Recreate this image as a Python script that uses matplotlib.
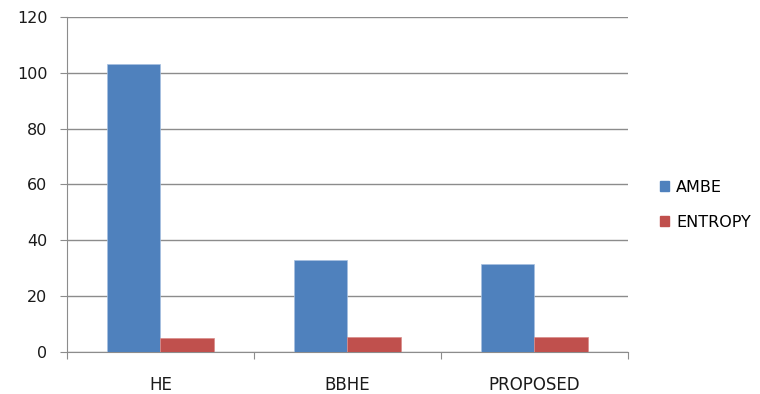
import numpy as np
import matplotlib.pyplot as plt
from matplotlib.patches import Patch

categories = ['HE', 'BBHE', 'PROPOSED']
ambe = [103.0, 33.0, 31.4]
entropy = [4.9, 5.3, 5.3]

blue = '#4F81BD'
red = '#C0504D'
grid = '#8c8c8c'
fs = 12

fig = plt.figure(figsize=(7.6, 3.94), dpi=100)
ax = fig.add_axes([0.088, 0.1066, 0.738, 0.8504])

x = np.arange(len(categories))
w = 0.285
ax.bar(x - w / 2, ambe, w, color=blue, edgecolor='#a6c0e0', linewidth=0.5, zorder=3)
ax.bar(x + w / 2, entropy, w, color=red, edgecolor='#d88b89', linewidth=0.5, zorder=3)

ax.set_xlim(-0.5, len(categories) - 0.5)
ax.set_ylim(0, 120)
ax.set_yticks(range(0, 121, 20))
ax.yaxis.grid(True, color=grid, linewidth=1, zorder=0)
ax.set_axisbelow(True)

# category boundaries get the tick marks, labels sit in the middle
ax.set_xticks(np.arange(-0.5, len(categories), 1))
ax.set_xticklabels([])
ax.set_xticks(x, minor=True)
ax.set_xticklabels(categories, minor=True)
ax.tick_params(axis='x', which='major', length=5, color=grid, direction='out')
ax.tick_params(axis='x', which='minor', length=0, pad=17, labelsize=fs, labelcolor='#1a1a1a')
ax.tick_params(axis='y', length=5, color=grid, labelsize=fs - 0.5, labelcolor='#1a1a1a', pad=9)

for s in ['top', 'right']:
    ax.spines[s].set_visible(False)
ax.spines['left'].set_color(grid)
ax.spines['bottom'].set_color(grid)

handles = [Patch(color=blue, label='AMBE'), Patch(color=red, label='ENTROPY')]
fig.legend(handles=handles, loc='center left', bbox_to_anchor=(0.86, 0.48),
           frameon=False, fontsize=fs - 0.5, handlelength=0.55, handleheight=0.55,
           handletextpad=0.45, labelspacing=1.25, borderaxespad=0)

fig.savefig('out.png', dpi=100, facecolor='white')
